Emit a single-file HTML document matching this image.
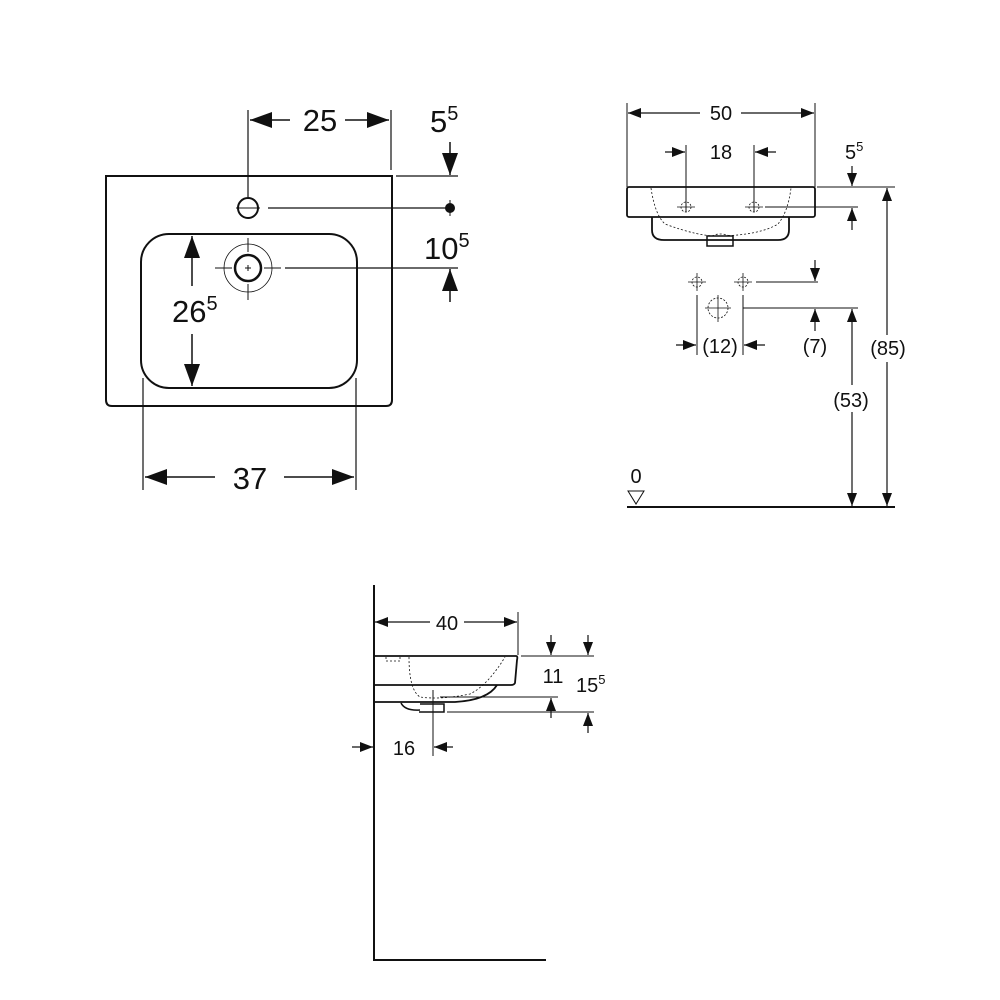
<!DOCTYPE html>
<html><head><meta charset="utf-8"><style>
html,body{margin:0;padding:0;background:#fff}
svg{display:block}
text{font-family:"Liberation Sans",Arial,sans-serif;fill:#111}
</style></head><body>
<svg width="1000" height="1000" viewBox="0 0 1000 1000" xmlns="http://www.w3.org/2000/svg">
<defs>
<marker id="B" markerUnits="userSpaceOnUse" markerWidth="24" markerHeight="16" refX="22" refY="8" orient="auto-start-reverse"><path d="M0,0 L22,8 L0,16 Z" fill="#111"/></marker>
<marker id="S" markerUnits="userSpaceOnUse" markerWidth="14" markerHeight="10" refX="13" refY="5" orient="auto-start-reverse"><path d="M0,0 L13,5 L0,10 Z" fill="#111"/></marker>
</defs>
<g stroke="#111" fill="none">
<!-- TOP LEFT -->
<path d="M106,176 H392 V400 Q392,406 386,406 H112 Q106,406 106,400 Z" stroke-width="2"/>
<rect x="141" y="234" width="216" height="154" rx="28" stroke-width="2"/>
<circle cx="248" cy="208" r="10" stroke-width="2"/>
<line x1="236" y1="208" x2="260" y2="208" stroke-width="1"/>
<circle cx="248" cy="268" r="13" stroke-width="2.5"/>
<circle cx="248" cy="268" r="24" stroke-width="0.8"/>
<line x1="215" y1="268" x2="232" y2="268" stroke-width="1"/>
<line x1="264" y1="268" x2="281" y2="268" stroke-width="1"/>
<line x1="248" y1="238" x2="248" y2="252" stroke-width="1"/>
<line x1="248" y1="284" x2="248" y2="300" stroke-width="1"/>
<line x1="245" y1="268" x2="251" y2="268" stroke-width="1"/>
<line x1="248" y1="265" x2="248" y2="271" stroke-width="1"/>
<line x1="248" y1="110" x2="248" y2="197" stroke-width="1.2"/>
<line x1="391" y1="110" x2="391" y2="170" stroke-width="1.2"/>
<line x1="250" y1="120" x2="290" y2="120" stroke-width="1.5" marker-start="url(#B)"/>
<line x1="345" y1="120" x2="389" y2="120" stroke-width="1.5" marker-end="url(#B)"/>
<line x1="396" y1="176" x2="458" y2="176" stroke-width="1.2"/>
<line x1="450" y1="142" x2="450" y2="175" stroke-width="1.5" marker-end="url(#B)"/>
<line x1="268" y1="208" x2="450" y2="208" stroke-width="1.2"/>
<line x1="450" y1="200" x2="450" y2="216" stroke-width="1"/>
<line x1="285" y1="268" x2="458" y2="268" stroke-width="1.2"/>
<line x1="450" y1="302" x2="450" y2="269" stroke-width="1.5" marker-end="url(#B)"/>
<line x1="192" y1="286" x2="192" y2="236" stroke-width="1.5" marker-end="url(#B)"/>
<line x1="192" y1="334" x2="192" y2="386" stroke-width="1.5" marker-end="url(#B)"/>
<line x1="143" y1="378" x2="143" y2="490" stroke-width="1.2"/>
<line x1="356" y1="378" x2="356" y2="490" stroke-width="1.2"/>
<line x1="215" y1="477" x2="145" y2="477" stroke-width="1.5" marker-end="url(#B)"/>
<line x1="284" y1="477" x2="354" y2="477" stroke-width="1.5" marker-end="url(#B)"/>
</g>
<circle cx="450" cy="208" r="5" fill="#111"/>
<text x="320" y="131" font-size="31" text-anchor="middle">25</text>
<text x="430" y="132" font-size="31">5<tspan font-size="20" dy="-12">5</tspan></text>
<text x="424" y="259" font-size="31">10<tspan font-size="20" dy="-12">5</tspan></text>
<text x="172" y="322" font-size="31">26<tspan font-size="20" dy="-12">5</tspan></text>
<text x="250" y="489" font-size="31" text-anchor="middle">37</text>

<!-- TOP RIGHT -->
<g stroke="#111" fill="none">
<line x1="627" y1="103" x2="627" y2="187" stroke-width="1"/>
<line x1="815" y1="103" x2="815" y2="187" stroke-width="1"/>
<line x1="628" y1="113" x2="700" y2="113" stroke-width="1.2" marker-start="url(#S)"/>
<line x1="741" y1="113" x2="814" y2="113" stroke-width="1.2" marker-end="url(#S)"/>
<line x1="686" y1="145" x2="686" y2="212" stroke-width="1"/>
<line x1="754" y1="145" x2="754" y2="212" stroke-width="1"/>
<line x1="665" y1="152" x2="685" y2="152" stroke-width="1.2" marker-end="url(#S)"/>
<line x1="776" y1="152" x2="755" y2="152" stroke-width="1.2" marker-end="url(#S)"/>
<rect x="627" y="187" width="188" height="30" rx="2" stroke-width="1.8"/>
<path d="M652,217 V230 Q652,240 664,240 H778 Q789,240 789,230 V217" stroke-width="1.8"/>
<rect x="707" y="236" width="26" height="10" stroke-width="1.5"/>
<path d="M651,188 Q655,215 665,224 Q700,237 720,236 Q760,235 778,224 Q788,212 791,188" stroke-width="0.8" stroke-dasharray="2,2"/>
<path d="M712,236 Q720,232 730,236" stroke-width="0.8" stroke-dasharray="2,2"/>
<g stroke-width="0.8">
<circle cx="686" cy="207" r="5" stroke-dasharray="2,1.5"/><line x1="677" y1="207" x2="695" y2="207"/>
<circle cx="754" cy="207" r="5" stroke-dasharray="2,1.5"/><line x1="745" y1="207" x2="763" y2="207"/>
<circle cx="697" cy="282" r="5" stroke-dasharray="2,1.5"/><line x1="688" y1="282" x2="706" y2="282"/><line x1="697" y1="273" x2="697" y2="291"/>
<circle cx="743" cy="282" r="5" stroke-dasharray="2,1.5"/><line x1="734" y1="282" x2="752" y2="282"/><line x1="743" y1="273" x2="743" y2="291"/>
<circle cx="718" cy="308" r="10" stroke-dasharray="2,1.5"/><line x1="705" y1="308" x2="731" y2="308"/><line x1="718" y1="295" x2="718" y2="322"/>
</g>
<line x1="765" y1="207" x2="858" y2="207" stroke-width="1"/>
<line x1="817" y1="187" x2="895" y2="187" stroke-width="1"/>
<line x1="852" y1="166" x2="852" y2="186" stroke-width="1.2" marker-end="url(#S)"/>
<line x1="852" y1="230" x2="852" y2="208" stroke-width="1.2" marker-end="url(#S)"/>
<line x1="756" y1="282" x2="818" y2="282" stroke-width="1"/>
<line x1="815" y1="260" x2="815" y2="281" stroke-width="1.2" marker-end="url(#S)"/>
<line x1="743" y1="308" x2="858" y2="308" stroke-width="1"/>
<line x1="815" y1="331" x2="815" y2="309" stroke-width="1.2" marker-end="url(#S)"/>
<line x1="697" y1="295" x2="697" y2="355" stroke-width="1"/>
<line x1="743" y1="295" x2="743" y2="355" stroke-width="1"/>
<line x1="676" y1="345" x2="696" y2="345" stroke-width="1.2" marker-end="url(#S)"/>
<line x1="765" y1="345" x2="744" y2="345" stroke-width="1.2" marker-end="url(#S)"/>
<line x1="852" y1="385" x2="852" y2="309" stroke-width="1.2" marker-end="url(#S)"/>
<line x1="852" y1="412" x2="852" y2="506" stroke-width="1.2" marker-end="url(#S)"/>
<line x1="887" y1="335" x2="887" y2="188" stroke-width="1.2" marker-end="url(#S)"/>
<line x1="887" y1="362" x2="887" y2="506" stroke-width="1.2" marker-end="url(#S)"/>
<line x1="627" y1="507" x2="895" y2="507" stroke-width="2"/>
<path d="M628,491 H644 L636,504 Z" stroke-width="1"/>
</g>
<text x="721" y="120" font-size="20" text-anchor="middle">50</text>
<text x="721" y="159" font-size="20" text-anchor="middle">18</text>
<text x="845" y="159" font-size="20">5<tspan font-size="13" dy="-8">5</tspan></text>
<text x="720" y="353" font-size="20" text-anchor="middle">(12)</text>
<text x="815" y="353" font-size="20" text-anchor="middle">(7)</text>
<text x="888" y="355" font-size="20" text-anchor="middle">(85)</text>
<text x="851" y="407" font-size="20" text-anchor="middle">(53)</text>
<text x="636" y="483" font-size="20" text-anchor="middle">0</text>

<!-- BOTTOM -->
<g stroke="#111" fill="none">
<line x1="374" y1="585" x2="374" y2="961" stroke-width="2"/>
<line x1="373" y1="960" x2="546" y2="960" stroke-width="2"/>
<line x1="518" y1="612" x2="518" y2="655" stroke-width="1"/>
<line x1="375" y1="622" x2="430" y2="622" stroke-width="1.2" marker-start="url(#S)"/>
<line x1="464" y1="622" x2="517" y2="622" stroke-width="1.2" marker-end="url(#S)"/>
<path d="M374,656 H516 Q518,656 517,660 L515,683 Q514,685 511,685 H374" stroke-width="1.8"/>
<path d="M374,702 H455 Q488,700 497,685" stroke-width="1.8"/>
<path d="M401,703 Q405,711 420,710" stroke-width="1.5"/>
<path d="M420,704 H444 V712 H419" stroke-width="1.5"/>
<path d="M386,657 V661 H400 V657" stroke-width="0.8" stroke-dasharray="2,2"/>
<path d="M409,657 Q409,690 420,697 Q440,700 470,694 Q488,685 505,657" stroke-width="0.8" stroke-dasharray="2,2"/>
<line x1="433" y1="690" x2="433" y2="756" stroke-width="1"/>
<line x1="521" y1="656" x2="594" y2="656" stroke-width="1"/>
<line x1="440" y1="697" x2="558" y2="697" stroke-width="1"/>
<line x1="447" y1="712" x2="594" y2="712" stroke-width="1"/>
<line x1="551" y1="635" x2="551" y2="655" stroke-width="1.2" marker-end="url(#S)"/>
<line x1="588" y1="635" x2="588" y2="655" stroke-width="1.2" marker-end="url(#S)"/>
<line x1="551" y1="718" x2="551" y2="698" stroke-width="1.2" marker-end="url(#S)"/>
<line x1="588" y1="733" x2="588" y2="713" stroke-width="1.2" marker-end="url(#S)"/>
<line x1="352" y1="747" x2="373" y2="747" stroke-width="1.2" marker-end="url(#S)"/>
<line x1="453" y1="747" x2="434" y2="747" stroke-width="1.2" marker-end="url(#S)"/>
</g>
<text x="447" y="630" font-size="20" text-anchor="middle">40</text>
<text x="553" y="683" font-size="20" text-anchor="middle">11</text>
<text x="576" y="692" font-size="20">15<tspan font-size="13" dy="-8">5</tspan></text>
<text x="404" y="755" font-size="20" text-anchor="middle">16</text>
</svg>
</body></html>
